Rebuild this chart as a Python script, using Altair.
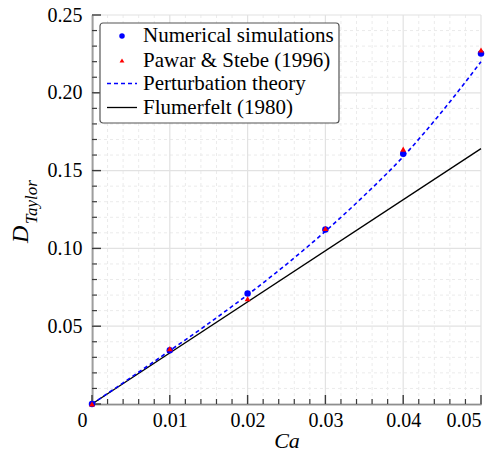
import altair as alt
import pandas as pd

# ---- data ----
ca = [0.0, 0.01, 0.02, 0.03, 0.04, 0.05]
d_numerical = [0.0, 0.0345, 0.0710, 0.1122, 0.1608, 0.2252]
d_pawar = [0.0, 0.0356, 0.0677, 0.1128, 0.1638, 0.2275]

ca_theory = [0.0, 0.005, 0.01, 0.015, 0.02, 0.025, 0.03, 0.035, 0.04, 0.045, 0.05]
d_theory = [0.0, 0.0170, 0.0343, 0.0518, 0.0702, 0.0898, 0.1110, 0.1340, 0.1590, 0.1880, 0.2200]

ca_flum = [0.0, 0.05]
d_flum = [0.0, 0.1641]

x_major = [0.0, 0.01, 0.02, 0.03, 0.04, 0.05]
x_minor = [0.002, 0.004, 0.006, 0.008, 0.012, 0.014, 0.016, 0.018,
           0.022, 0.024, 0.026, 0.028, 0.032, 0.034, 0.036, 0.038,
           0.042, 0.044, 0.046, 0.048]
y_major = [0.0, 0.05, 0.10, 0.15, 0.20, 0.25]
y_minor = [0.01, 0.02, 0.03, 0.04, 0.06, 0.07, 0.08, 0.09, 0.11, 0.12, 0.13, 0.14,
           0.16, 0.17, 0.18, 0.19, 0.21, 0.22, 0.23, 0.24]
y_labels = [0.05, 0.10, 0.15, 0.20, 0.25]

legend_labels = ["Numerical simulations", "Pawar & Stebe (1996)",
                 "Perturbation theory", "Flumerfelt (1980)"]

W, H = 389, 389
FONT = "Liberation Serif"
AXC = "#3a3a3a"

xs = alt.Scale(domain=[0, 0.05], nice=False, zero=False)
ys = alt.Scale(domain=[0, 0.25], nice=False, zero=False)

xaxis = alt.Axis(values=x_major, grid=False, ticks=False, domainColor=AXC, domainWidth=1.6,
                 labelFont=FONT, labelFontSize=20, labelColor="black", labelPadding=6,
                 labelExpr="datum.value == 0 ? '0' : format(datum.value, '.2f')",
                 labelOffset={"condition": {"test": "datum.value === 0", "value": -15}, "value": 0},
                 title="Ca", titleFont=FONT, titleFontStyle="italic", titleFontWeight="normal",
                 titleFontSize=22, titleColor="black", titlePadding=0)
yaxis = alt.Axis(values=y_labels, grid=False, ticks=False, domainColor=AXC, domainWidth=1.6,
                 labelFont=FONT, labelFontSize=20, labelColor="black", labelPadding=10,
                 format=".2f", title=None)


def X(f):
    return alt.X(f, type="quantitative", scale=xs, axis=xaxis)


def Y(f):
    return alt.Y(f, type="quantitative", scale=ys, axis=yaxis)


# grid
xg_major = alt.Chart(pd.DataFrame({"v": x_major})).mark_rule(color="#e2e2e2", strokeWidth=1.2).encode(
    x=X("v"), y=alt.value(0), y2=alt.value(H))
xg_minor = alt.Chart(pd.DataFrame({"v": x_minor})).mark_rule(color="#ebebeb", strokeWidth=1, strokeDash=[3, 3]).encode(
    x=X("v"), y=alt.value(0), y2=alt.value(H))
yg_major = alt.Chart(pd.DataFrame({"v": y_major})).mark_rule(color="#e2e2e2", strokeWidth=1.2).encode(
    y=Y("v"), x=alt.value(0), x2=alt.value(W))
yg_minor = alt.Chart(pd.DataFrame({"v": y_minor})).mark_rule(color="#ebebeb", strokeWidth=1, strokeDash=[3, 3]).encode(
    y=Y("v"), x=alt.value(0), x2=alt.value(W))

# inward ticks
xt_major = alt.Chart(pd.DataFrame({"v": x_major})).mark_rule(color=AXC, strokeWidth=1.4).encode(
    x=X("v"), y=alt.value(H), y2=alt.value(H - 9))
xt_minor = alt.Chart(pd.DataFrame({"v": x_minor})).mark_rule(color=AXC, strokeWidth=1.2).encode(
    x=X("v"), y=alt.value(H), y2=alt.value(H - 5))
yt_major = alt.Chart(pd.DataFrame({"v": y_major})).mark_rule(color=AXC, strokeWidth=1.4).encode(
    y=Y("v"), x=alt.value(0), x2=alt.value(9))
yt_minor = alt.Chart(pd.DataFrame({"v": y_minor})).mark_rule(color=AXC, strokeWidth=1.2).encode(
    y=Y("v"), x=alt.value(0), x2=alt.value(5))

# series
flum = alt.Chart(pd.DataFrame({"x": ca_flum, "y": d_flum})).mark_line(color="black", strokeWidth=1.3).encode(
    x=X("x"), y=Y("y"))
theory = alt.Chart(pd.DataFrame({"x": ca_theory, "y": d_theory})).mark_line(
    color="#0000ff", strokeWidth=1.6, strokeDash=[4, 3], interpolate="monotone").encode(
    x=X("x"), y=Y("y"))
num = alt.Chart(pd.DataFrame({"x": ca, "y": d_numerical})).mark_point(
    shape="circle", filled=True, color="#0000ff", size=42, opacity=1).encode(x=X("x"), y=Y("y"))
pawar = alt.Chart(pd.DataFrame({"x": ca, "y": d_pawar})).mark_point(
    shape="triangle-up", filled=True, color="#ff0000", size=34, opacity=1).encode(x=X("x"), y=Y("y"))

# legend (drawn inside the plot)
leg_box = alt.Chart(pd.DataFrame({"a": [0]})).mark_rect(
    fill="white", stroke="#555555", strokeWidth=1.2, cornerRadius=3).encode(
    x=alt.value(8), x2=alt.value(247), y=alt.value(8), y2=alt.value(108))
leg_rows = [21, 45.5, 68.5, 92.5]
leg_text = alt.Chart(pd.DataFrame({"t": legend_labels, "r": leg_rows})).mark_text(
    align="left", baseline="middle", font=FONT, fontSize=21, color="black").encode(
    x=alt.value(51), y=alt.Y("r:Q", scale=None), text="t:N")
leg_num = alt.Chart(pd.DataFrame({"a": [0]})).mark_point(
    shape="circle", filled=True, color="#0000ff", size=30, opacity=1).encode(
    x=alt.value(30), y=alt.value(leg_rows[0]))
leg_pawar = alt.Chart(pd.DataFrame({"a": [0]})).mark_point(
    shape="triangle-up", filled=True, color="#ff0000", size=24, opacity=1).encode(
    x=alt.value(30), y=alt.value(leg_rows[1]))
leg_theory = alt.Chart(pd.DataFrame({"a": [0]})).mark_rule(
    color="#0000ff", strokeWidth=1.6, strokeDash=[4, 3]).encode(
    x=alt.value(15), x2=alt.value(45), y=alt.value(leg_rows[2]))
leg_flum = alt.Chart(pd.DataFrame({"a": [0]})).mark_rule(color="black", strokeWidth=1.3).encode(
    x=alt.value(15), x2=alt.value(45), y=alt.value(leg_rows[3]))

# y-axis title with subscript
ytitle_d = alt.Chart(pd.DataFrame({"t": ["D"]})).mark_text(
    angle=270, align="left", baseline="alphabetic", font=FONT, fontStyle="italic",
    fontSize=24, color="black").encode(x=alt.value(-64), y=alt.value(228), text="t:N")
ytitle_sub = alt.Chart(pd.DataFrame({"t": ["Taylor"]})).mark_text(
    angle=270, align="left", baseline="alphabetic", font=FONT, fontStyle="italic",
    fontSize=17, color="black").encode(x=alt.value(-55), y=alt.value(209), text="t:N")

chart = alt.layer(
    xg_minor, yg_minor, xg_major, yg_major,
    xt_minor, xt_major, yt_minor, yt_major,
    flum, theory, num, pawar,
    leg_box, leg_text, leg_num, leg_pawar, leg_theory, leg_flum,
    ytitle_d, ytitle_sub,
).properties(
    width=W, height=H,
    padding={"left": 84, "top": 7, "right": 10, "bottom": 48},
    autosize=alt.AutoSizeParams(type="none"),
    background="white",
).configure_view(stroke=None)

chart.save("out.html", embed_options={"renderer": "svg", "actions": False})
